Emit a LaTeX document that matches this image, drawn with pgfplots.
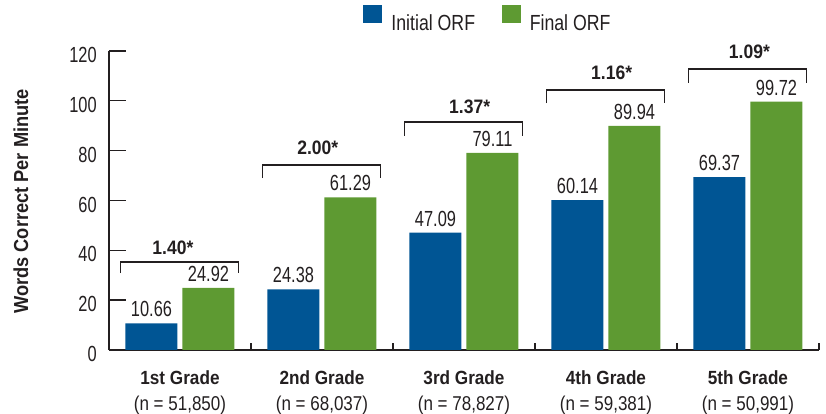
\documentclass[border=0pt]{standalone}
\usepackage{fontspec}
\setmainfont{Liberation Sans}[FakeStretch=0.75, BoldFeatures={FakeStretch=0.9}]
\newfontfamily\legfont{Liberation Sans}[FakeStretch=0.81]
\newfontfamily\nfont{Liberation Sans}[FakeStretch=0.85]
\usepackage{pgfplots}
\pgfplotsset{compat=1.18}
\definecolor{barblue}{HTML}{005594}
\definecolor{bargreen}{HTML}{5E9A32}
\definecolor{ink}{HTML}{231F20}
\newcommand\grp[2]{{\fontsize{14.3pt}{19.5pt}\selectfont\bfseries #1}\\{\nfont #2}}
\begin{document}
\begin{tikzpicture}
\begin{axis}[
  name=ax,
  scale only axis, width=532.5pt, height=224.25pt,
  ymin=0, ymax=120, xmin=-0.5, xmax=4.5,
  clip=false,
  axis x line=bottom, axis y line=left,
  axis line style={-, draw=ink, line width=1.2pt},
  /pgf/number format/assume math mode=true,
  ybar=3.75pt, bar width=39pt,
  ytick={0,20,...,120},
  tick align=inside,
  ytick style={draw=ink, line width=1pt},
  major tick length=12.75pt,
  yticklabel style={font=\fontsize{16.4pt}{18pt}\selectfont, text=ink, inner sep=0pt, xshift=-9pt, yshift=-3pt},
  xtick={0,1,2,3,4},
  xtick style={draw=none},
  xticklabels={
    {\grp{1st Grade}{(n = 51,850)}},
    {\grp{2nd Grade}{(n = 68,037)}},
    {\grp{3rd Grade}{(n = 78,827)}},
    {\grp{4th Grade}{(n = 59,381)}},
    {\grp{5th Grade}{(n = 50,991)}}},
  xticklabel style={font=\fontsize{15pt}{19.5pt}\selectfont, text=ink, align=center, anchor=north, inner sep=0pt, yshift=-15pt},
  extra x ticks={0.5,1.5,2.5,3.5,4.5},
  extra x tick labels={},
  extra x tick style={xtick style={draw=ink, line width=1pt}, major tick length=5.25pt},
  ylabel={\bfseries Words Correct Per Minute},
  ylabel style={font=\fontsize{15.2pt}{18pt}\selectfont, text=ink, at={(axis description cs:-0.124,0.497)}, anchor=center},
  nodes near coords={\pgfmathprintnumber[fixed,precision=2,fixed zerofill]{\pgfplotspointmeta}},
  nodes near coords style={font=\fontsize{16.4pt}{18pt}\selectfont, text=ink, anchor=south, inner sep=0pt, yshift=4.5pt},
  legend columns=2,
  legend style={at={(rel axis cs:0.358,1.109)}, anchor=west, draw=none, fill=none, inner sep=0pt,
    font=\fontsize{16.4pt}{19pt}\selectfont\legfont, text=ink,
    nodes={inner sep=0pt},
    /tikz/every odd column/.append style={column sep=6.75pt},
    /tikz/every even column/.append style={column sep=20pt}},
]
\addplot[fill=barblue, draw=none, legend image code/.code={\fill[barblue] (0pt,-0.3pt) rectangle (14.25pt,13.7pt);}]
  coordinates {(0,10.66) (1,24.38) (2,47.09) (3,60.14) (4,69.37)};
\addlegendentry{Initial ORF}
\addplot[fill=bargreen, draw=none, legend image code/.code={\fill[bargreen] (0pt,-0.3pt) rectangle (14.25pt,13.7pt);}]
  coordinates {(0,24.92) (1,61.29) (2,79.11) (3,89.94) (4,99.72)};
\addlegendentry{Final ORF}
% significance brackets
\draw[ink, line width=1pt] (axis cs:-0.42,30.9) |- (axis cs:0.41,35.3) -- (axis cs:0.41,30.9);
\draw[ink, line width=1pt] (axis cs:0.58,69.0) |- (axis cs:1.41,74.2) -- (axis cs:1.41,69.0);
\draw[ink, line width=1pt] (axis cs:1.58,85.9) |- (axis cs:2.41,91.5) -- (axis cs:2.41,85.9);
\draw[ink, line width=1pt] (axis cs:2.58,99.1) |- (axis cs:3.41,104.3) -- (axis cs:3.41,99.1);
\draw[ink, line width=1pt] (axis cs:3.58,107.2) |- (axis cs:4.41,112.8) -- (axis cs:4.41,107.2);
\node[font=\fontsize{14.6pt}{18pt}\selectfont\bfseries, text=ink] at (axis cs:-0.05,40.9) {1.40*};
\node[font=\fontsize{14.6pt}{18pt}\selectfont\bfseries, text=ink] at (axis cs:0.97,81.1) {2.00*};
\node[font=\fontsize{14.6pt}{18pt}\selectfont\bfseries, text=ink] at (axis cs:2.04,97.5) {1.37*};
\node[font=\fontsize{14.6pt}{18pt}\selectfont\bfseries, text=ink] at (axis cs:3.04,111.2) {1.16*};
\node[font=\fontsize{14.6pt}{18pt}\selectfont\bfseries, text=ink] at (axis cs:4.01,119.6) {1.09*};
\end{axis}
\pgfresetboundingbox
\path (ax.south west) ++(-81.75pt,-48pt) rectangle ++(619.5pt,310.5pt);
\end{tikzpicture}
\end{document}
